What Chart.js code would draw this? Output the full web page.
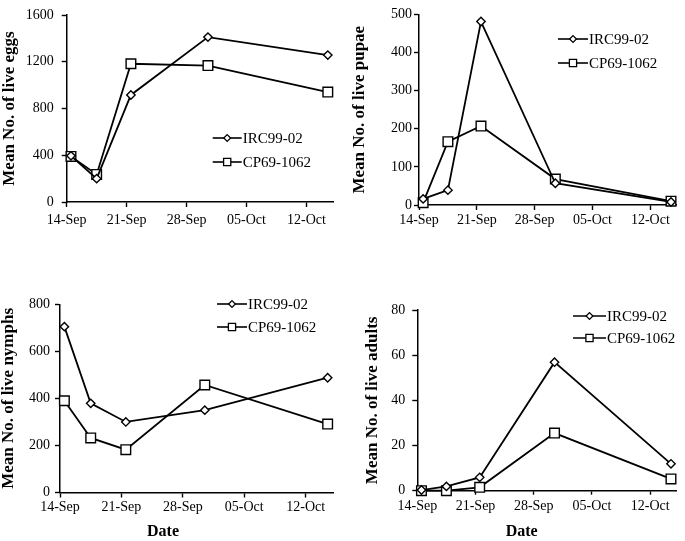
<!DOCTYPE html>
<html>
<head>
<meta charset="utf-8">
<script src="https://cdn.jsdelivr.net/npm/chart.js@4.4.1/dist/chart.umd.min.js"></script>
<style>
  body { margin: 0; background: #fff; }
  #wrap { position: relative; width: 685px; height: 541px; overflow: hidden; }
  canvas { position: absolute; }
</style>
</head>
<body>
<div id="wrap"></div>
<script>
// sampling dates, counted in days after 14-Sep
const sampleDays = [0.5, 3.5, 7.5, 16.5, 30.5];
const tickDays = [0, 7, 14, 21, 28];
const tickLabels = ['14-Sep', '21-Sep', '28-Sep', '05-Oct', '12-Oct'];
const seriesNames = ['IRC99-02', 'CP69-1062'];
const xTitle = 'Date';

const eggsIRC = [395, 200, 916, 1411, 1257];
const eggsCP = [390, 236, 1183, 1167, 941];
const pupaeIRC = [16, 39, 481, 57, 8];
const pupaeCP = [6, 166, 207, 68, 10];
const nymphsIRC = [705, 379, 300, 350, 488];
const nymphsCP = [390, 232, 182, 457, 291];
const adultsIRC = [0.3, 1.9, 5.9, 56.9, 11.9];
const adultsCP = [0, 0, 1.5, 25.5, 5.2];

const FONT = '"Liberation Serif", "Times New Roman", serif';

// page layout of the four panels (absolute px in the 685x541 page)
const panels = [
  { title: 'Mean No. of live eggs', a: eggsIRC, b: eggsCP, max: 1600, step: 400,
    box: { l: 0, t: 0, w: 342, h: 232 }, area: { l: 66.7, t: 7.7, r: 338, b: 202 },
    titleX: 10, yPad: 8, xPad: 6, xTick: 5, legX: [212.7, 241.7], legY: [138, 162] },
  { title: 'Mean No. of live pupae', a: pupaeIRC, b: pupaeCP, max: 500, step: 100,
    box: { l: 342, t: 0, w: 343, h: 232 }, area: { l: 419, t: 14.3, r: 683, b: 205 },
    titleX: 360, yPad: 2, xPad: 3, xTick: 5, legX: [558, 588], legY: [39, 63] },
  { title: 'Mean No. of live nymphs', a: nymphsIRC, b: nymphsCP, max: 800, step: 200,
    box: { l: 0, t: 280, w: 342, h: 261 }, area: { l: 60, t: 304.3, r: 338, b: 492.5 },
    titleX: 9, yPad: 5, xPad: 3, xTick: 5, legX: [217, 247], legY: [304, 327], date: [163, 531.7] },
  { title: 'Mean No. of live adults', a: adultsIRC, b: adultsCP, max: 80, step: 20,
    box: { l: 342, t: 280, w: 343, h: 261 }, area: { l: 417.3, t: 310, r: 683, b: 490.7 },
    titleX: 373, yPad: 7, xPad: 5, xTick: 4, legX: [573, 606], legY: [316, 338], date: [521.7, 531.7] }
];

function marker(ctx, style, x, y, r) {
  ctx.beginPath();
  if (style === 'rect') {
    ctx.rect(x - r, y - r, 2 * r, 2 * r);
  } else {
    ctx.moveTo(x, y - r); ctx.lineTo(x + r, y); ctx.lineTo(x, y + r); ctx.lineTo(x - r, y); ctx.closePath();
  }
  ctx.fillStyle = '#fff';
  ctx.fill();
  ctx.lineWidth = 1.3;
  ctx.strokeStyle = '#000';
  ctx.stroke();
}

// draws the in-plot legend and the "Date" caption
const overlay = {
  id: 'overlay',
  afterDraw(chart, args, o) {
    const ctx = chart.ctx;
    ctx.save();
    chart.data.datasets.forEach((ds, i) => {
      const y = o.legY[i];
      ctx.strokeStyle = '#000';
      ctx.lineWidth = 1.6;
      ctx.beginPath(); ctx.moveTo(o.legX[0], y); ctx.lineTo(o.legX[1], y); ctx.stroke();
      marker(ctx, ds.pointStyle, (o.legX[0] + o.legX[1]) / 2, y, ds.pointStyle === 'rect' ? 3.6 : 3.4);
      ctx.fillStyle = '#000';
      ctx.font = '15px ' + FONT;
      ctx.textBaseline = 'middle';
      ctx.textAlign = 'left';
      ctx.fillText(ds.label, o.legX[1] + 1, y + 1);
    });
    if (o.date) {
      ctx.font = 'bold 16px ' + FONT;
      ctx.textAlign = 'center';
      ctx.textBaseline = 'middle';
      ctx.fillStyle = '#000';
      ctx.fillText(xTitle, o.date[0], o.date[1]);
    }
    ctx.restore();
  }
};

function makeChart(p) {
  const cv = document.createElement('canvas');
  cv.width = p.box.w; cv.height = p.box.h;
  cv.style.left = p.box.l + 'px'; cv.style.top = p.box.t + 'px';
  cv.style.width = p.box.w + 'px'; cv.style.height = p.box.h + 'px';
  document.getElementById('wrap').appendChild(cv);

  const ds = (label, vals, style, r) => ({
    label: label,
    data: sampleDays.map((d, i) => ({ x: d, y: vals[i] })),
    borderColor: '#000', borderWidth: 1.8,
    pointStyle: style, pointRadius: r, pointBorderWidth: 1.4,
    pointBackgroundColor: '#fff', pointBorderColor: '#000',
    tension: 0, clip: false
  });
  const axisGrid = len => ({ display: true, drawOnChartArea: false, drawTicks: true, tickLength: len, tickColor: '#000', tickWidth: 1.4 });

  new Chart(cv, {
    type: 'line',
    data: {
      datasets: [ds(seriesNames[0], p.a, 'rectRot', 4.2), ds(seriesNames[1], p.b, 'rect', 6.8)]
    },
    options: {
      responsive: false, animation: false, devicePixelRatio: 1,
      layout: { padding: { left: 0, bottom: 0, top: p.area.t - p.box.t, right: p.box.l + p.box.w - p.area.r } },
      plugins: {
        legend: { display: false }, tooltip: { enabled: false },
        overlay: {
          legX: p.legX.map(v => v - p.box.l),
          legY: p.legY.map(v => v - p.box.t),
          date: p.date ? [p.date[0] - p.box.l, p.date[1] - p.box.t] : null
        }
      },
      scales: {
        x: {
          type: 'linear', min: 0, max: 31.2,
          afterBuildTicks: s => { s.ticks = tickDays.map(v => ({ value: v })); },
          ticks: {
            callback: (v, i) => tickLabels[i],
            color: '#000', font: { family: FONT, size: 14, lineHeight: 1 },
            padding: p.xPad, maxRotation: 0, autoSkip: false
          },
          grid: axisGrid(p.xTick),
          border: { color: '#000', width: 1.5 },
          afterFit: s => { s.height = p.box.t + p.box.h - p.area.b; }
        },
        y: {
          min: 0, max: p.max,
          ticks: {
            stepSize: p.step, color: '#000', padding: p.yPad,
            font: { family: FONT, size: 14, lineHeight: 1 },
            callback: v => String(v)
          },
          grid: axisGrid(5),
          border: { color: '#000', width: 1.5 },
          title: {
            display: true, text: p.title, color: '#000',
            font: { family: FONT, size: 17, weight: 'bold', lineHeight: 1 },
            padding: { top: p.titleX - p.box.l - 8.5, bottom: 0 }
          },
          afterFit: s => { s.width = p.area.l - p.box.l; }
        }
      }
    },
    plugins: [overlay]
  });
}

panels.forEach(makeChart);
</script>
</body>
</html>
